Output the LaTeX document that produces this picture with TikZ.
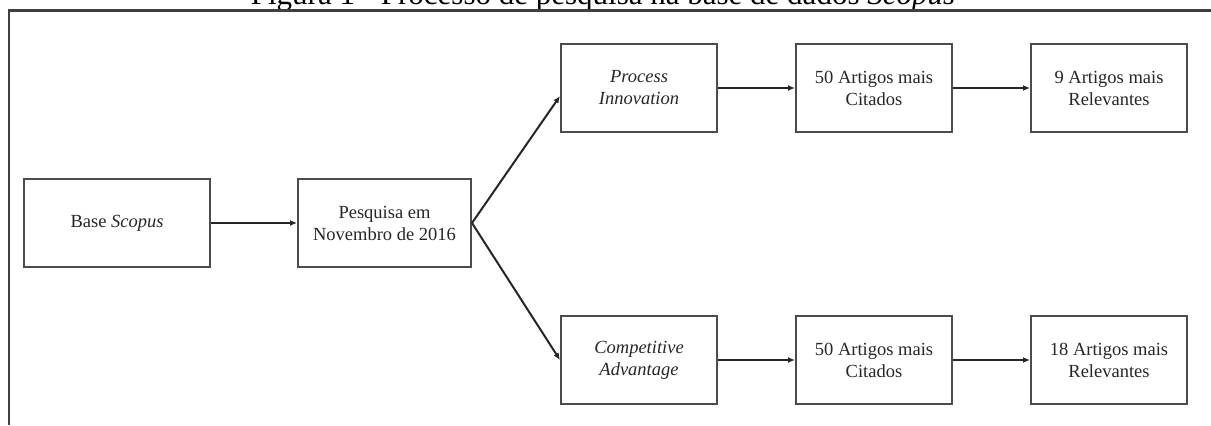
\documentclass[tikz,border=0pt]{standalone}
\usepackage{fontspec}
\setmainfont{Liberation Serif}
\usetikzlibrary{arrows.meta}
\begin{document}
\begin{tikzpicture}[x=0.5pt,y=-0.5pt,
    font=\fontsize{9.25}{11}\selectfont,
    box/.style={draw=black!70, line width=1pt, minimum width=78pt, minimum height=44pt, align=center, inner sep=0pt, text=black!85},
    topic/.style={box, font=\fontsize{9.25}{11}\selectfont\itshape},
    link/.style={draw=black!85, line width=1pt, -{Latex[length=3.5pt,width=3pt]}}]
        % Search process in the Scopus database
        \useasboundingbox (0,0) rectangle (1211,425);
        \node[anchor=base, font=\fontsize{15.5}{18}\selectfont] (title) at (603,4.5) {Figura 1 - Processo de pesquisa na base de dados \textit{Scopus}};
        \draw[black!75, line width=1.2pt] (9,425) -- (9,10.5) -- (1211,10.5);
        \node[box, minimum width=93pt] (base) at (117,223) {Base \textit{Scopus}};
        \node[box, minimum width=86.5pt] (search) at (384.5,223) {Pesquisa em\\Novembro de 2016};
        \draw[link] (base) -- (search);
        \foreach \r/\y/\topic/\n/\dy in {1/88/Process\\Innovation/9/-4pt,2/360/Competitive\\Advantage/18/0pt}
        {
            \node[topic] (topic\r) at (639,\y) {\topic};
            \node[box] (cited\r) at (874,\y) {50 Artigos mais\\Citados};
            \node[box] (relev\r) at (1109,\y) {\n{} Artigos mais\\Relevantes};
            \draw[link] (search.east) -- ([yshift=\dy]topic\r.west);
            \draw[link] (topic\r) -- (cited\r);
            \draw[link] (cited\r) -- (relev\r);
        }
    \end{tikzpicture}
\end{document}
